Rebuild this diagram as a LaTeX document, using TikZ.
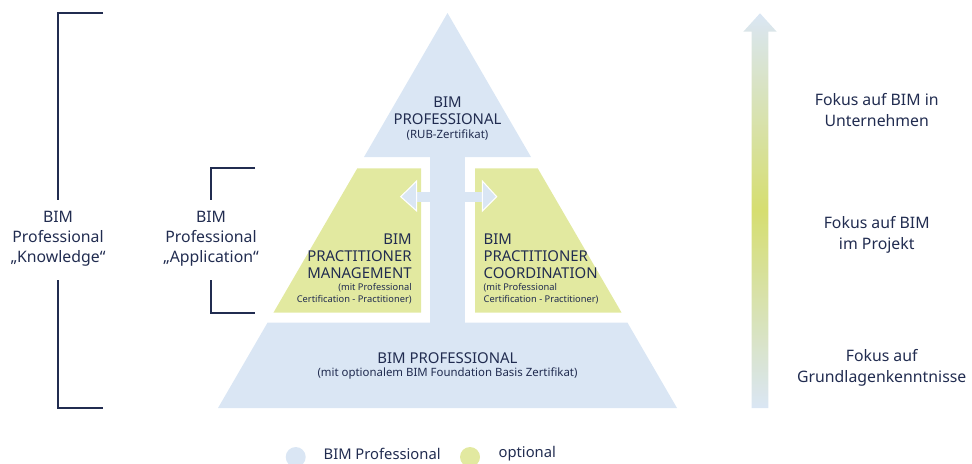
\documentclass[tikz,border=0pt]{standalone}
\usepackage{fontspec}
\setmainfont{Noto Sans}
\usepackage{xcolor}
\usepackage{tikz}
\usetikzlibrary{positioning}

\definecolor{bimblue}{RGB}{218,230,244}
\definecolor{optgreen}{RGB}{226,233,160}
\definecolor{midgreen}{RGB}{214,222,112}
\definecolor{navy}{RGB}{33,44,80}

\tikzset{
	sidelabel/.style={text=navy,align=center,inner sep=0pt,font=\fontsize{9}{11.6}\selectfont},
	pyrtext/.style={text=navy,inner sep=0pt,font=\fontsize{8.5}{9.7}\selectfont},
	pyrsmall/.style={text=navy,inner sep=0pt,font=\fontsize{5.3}{6.8}\selectfont},
	bracket/.style={draw=navy,line width=0.8pt},
	legendtext/.style={text=navy,anchor=west,inner sep=0pt,font=\fontsize{8.4}{10}\selectfont},
}

\begin{document}
\begin{tikzpicture}[x=0.02cm,y=-0.02cm]
		\clip (0,0) rectangle (972,463);
		% pyramid
		\fill[bimblue] (447.5,13) -- (531,157) -- (364,157) -- cycle;
		\fill[bimblue] (430,157) rectangle (465,323);
		\fill[bimblue] (267.5,322.7) -- (627.5,322.7) -- (677,408) -- (218,408) -- cycle;
		\fill[optgreen] (357.3,168.3) -- (421,168.3) -- (421,312.7) -- (273.4,312.7) -- cycle;
		\fill[optgreen] (475,168.3) -- (537.7,168.3) -- (621.6,312.7) -- (475,312.7) -- cycle;
		% arrows to the sides
		\fill[bimblue] (416,192.3) rectangle (483,201.7);
		\filldraw[fill=bimblue,draw=white,line width=0.6pt] (416.7,181) -- (400.7,196.7) -- (416.7,211) -- cycle;
		\filldraw[fill=bimblue,draw=white,line width=0.6pt] (482.3,181) -- (496.7,196.7) -- (482.3,211) -- cycle;

		\node[pyrtext,align=center] (topmain) at (447.5,110.5) {BIM\\PROFESSIONAL};
		\node[pyrsmall,font=\fontsize{6.5}{8}\selectfont] (topsub) at (447.5,135) {(RUB-Zertifikat)};
		\node[pyrtext,align=right,anchor=east] (mgmtmain) at (412,256) {BIM\\PRACTITIONER\\MANAGEMENT};
		\node[pyrsmall,align=right,anchor=east] (mgmtsub) at (412,293.3) {(mit Professional\\Certification - Practitioner)};
		\node[pyrtext,align=left,anchor=west] (coormain) at (483.3,256) {BIM\\PRACTITIONER\\COORDINATION};
		\node[pyrsmall,align=left,anchor=west] (coorsub) at (483.3,293.3) {(mit Professional\\Certification - Practitioner)};
		\node[pyrtext] (basemain) at (447.5,357.7) {BIM PROFESSIONAL};
		\node[pyrsmall,font=\fontsize{6.5}{8}\selectfont] (basesub) at (447.5,373.3) {(mit optionalem BIM Foundation Basis Zertifikat)};

		% brackets on the left
		\node[sidelabel] (know) at (58,238.7) {BIM\\Professional\\„Knowledge“};
		\node[sidelabel] (appl) at (211,238.7) {BIM\\Professional\\„Application“};
		\coordinate (kTop) at (103,13);
		\coordinate (kUp) at (58,200);
		\coordinate (kDown) at (58,280);
		\coordinate (kBot) at (103,408);
		\coordinate (aTop) at (255,168);
		\coordinate (aUp) at (211,200);
		\coordinate (aDown) at (211,280);
		\coordinate (aBot) at (255,313);
		\draw[bracket] (kTop) -| (kUp);
		\draw[bracket] (kDown) |- (kBot);
		\draw[bracket] (aTop) -| (aUp);
		\draw[bracket] (aDown) |- (aBot);

		% focus arrow
		\shade[top color=bimblue,bottom color=bimblue,middle color=midgreen]
			(751.7,408) -- (751.7,31.7) -- (743.3,31.7) -- (760,13.3) -- (776.7,31.7) -- (768.3,31.7) -- (768.3,408) -- cycle;
		\node[sidelabel] (focus1) at (876.7,110) {Fokus auf BIM in\\Unternehmen};
		\node[sidelabel] (focus2) at (876.7,235) {Fokus auf BIM\\im Projekt};
		\node[sidelabel] (focus3) at (881.7,368) {Fokus auf\\Grundlagenkenntnisse};

		% legend
		\fill[bimblue] (295.7,457) circle (10);
		\node[legendtext] (legblue) at (323.3,454) {BIM Professional};
		\fill[optgreen] (470,457) circle (10);
		\node[legendtext] (leggreen) at (498.3,454) {optional};
	\end{tikzpicture}
\end{document}
